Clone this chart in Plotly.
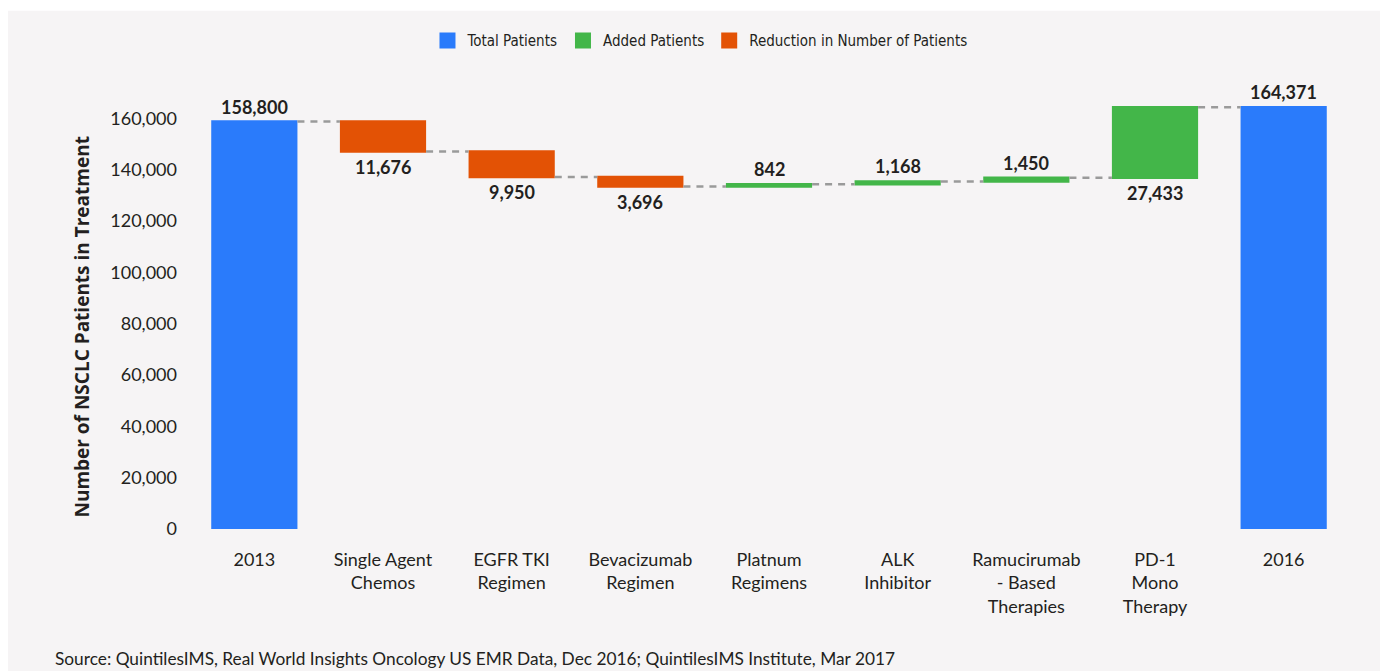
import plotly.graph_objects as go

categories = ["2013", "Single Agent<br>Chemos", "EGFR TKI<br>Regimen", "Bevacizumab<br>Regimen",
              "Platnum<br>Regimens", "ALK<br>Inhibitor", "Ramucirumab<br>- Based<br>Therapies",
              "PD-1<br>Mono<br>Therapy", "2016"]
measures = ["absolute", "relative", "relative", "relative", "relative", "relative", "relative", "relative", "total"]
changes = [158800, -11676, -9950, -3696, 842, 1168, 1450, 27433, 0]
label_side = ["above", "below", "below", "below", "above", "above", "above", "below", "above"]
y_ticks = [0, 20000, 40000, 60000, 80000, 100000, 120000, 140000, 160000]
legend_names = ["Total Patients", "Added Patients", "Reduction in Number of Patients"]

BLUE = "#2a7bfb"
GREEN = "#43b649"
ORANGE = "#e35205"
BG = "#f6f4f5"
TXT = "#231f20"
FONT = "Lato, 'Open Sans', sans-serif"

# running totals for label positions
tops, bottoms, labels = [], [], []
running = 0
for m, v in zip(measures, changes):
    if m == "absolute":
        running = v
        lo, hi, val = 0, v, v
    elif m == "total":
        lo, hi, val = 0, running, running
    else:
        start = running
        running = running + v
        lo, hi, val = min(start, running), max(start, running), abs(v)
    bottoms.append(lo)
    tops.append(hi)
    labels.append(f"{val:,}")

fig = go.Figure()
fig.add_trace(go.Waterfall(
    x=categories, y=changes, measure=measures,
    width=0.67,
    increasing=dict(marker=dict(color=GREEN)),
    decreasing=dict(marker=dict(color=ORANGE)),
    totals=dict(marker=dict(color=BLUE)),
    connector=dict(mode="between", line=dict(color="#9a9a9a", width=2.5, dash="7px,6px")),
    showlegend=False, hoverinfo="skip",
))
for name, col in zip(legend_names, [BLUE, GREEN, ORANGE]):
    fig.add_trace(go.Scatter(x=[categories[0]], y=[None], mode="markers", name=name,
                             marker=dict(symbol="square", size=20, color=col), hoverinfo="skip"))

for i, (side, lo, hi, lab) in enumerate(zip(label_side, bottoms, tops, labels)):
    fig.add_annotation(x=i, y=hi if side == "above" else lo, text=f"<b>{lab}</b>",
                       showarrow=False, yshift=15 if side == "above" else -15,
                       yanchor="middle", font=dict(size=18, color=TXT, family=FONT))

# y-axis title
fig.add_annotation(xref="paper", yref="paper", x=-0.0933, y=0.4508, textangle=-90,
                   text="<b>Number of NSCLC Patients in Treatment</b>", showarrow=False,
                   xanchor="center", yanchor="middle",
                   font=dict(size=19, color=TXT, family="'Open Sans', Lato, sans-serif"))
# source
fig.add_annotation(xref="paper", yref="paper", x=-0.1183, y=-0.2893, xanchor="left", yanchor="middle",
                   text="Source: QuintilesIMS, Real World Insights Oncology US EMR Data, Dec 2016; QuintilesIMS Institute, Mar 2017",
                   showarrow=False, font=dict(size=17.3, color=TXT, family=FONT))

# thin white strip at the top of the panel
fig.add_shape(type="rect", xref="paper", yref="paper", x0=-0.2, x1=1.1, y0=1.1543, y1=1.2,
              fillcolor="white", line=dict(width=0), layer="below")

fig.update_layout(
    width=1388, height=671,
    margin=dict(l=182, r=48, t=72, b=150),
    paper_bgcolor=BG, plot_bgcolor=BG,
    font=dict(family=FONT, size=18, color=TXT),
    legend=dict(orientation="h", x=0.4404, y=1.0875, xanchor="center", yanchor="middle",
                font=dict(size=15, color=TXT,
                          family="'Liberation Sans Narrow', 'DejaVu Sans Condensed', Lato, sans-serif"),
                bgcolor="rgba(0,0,0,0)"),
    xaxis=dict(type="category", range=[-0.5, len(categories) - 0.5], showgrid=False, zeroline=False,
               showline=False, ticklabelstandoff=18, tickfont=dict(size=18, color=TXT)),
    yaxis=dict(range=[0, 175000], tickvals=y_ticks, tickformat=",d", showgrid=False,
               zeroline=False, showline=False, ticklabelstandoff=12,
               tickfont=dict(size=18, color=TXT)),
)

fig.write_html("out.html")
